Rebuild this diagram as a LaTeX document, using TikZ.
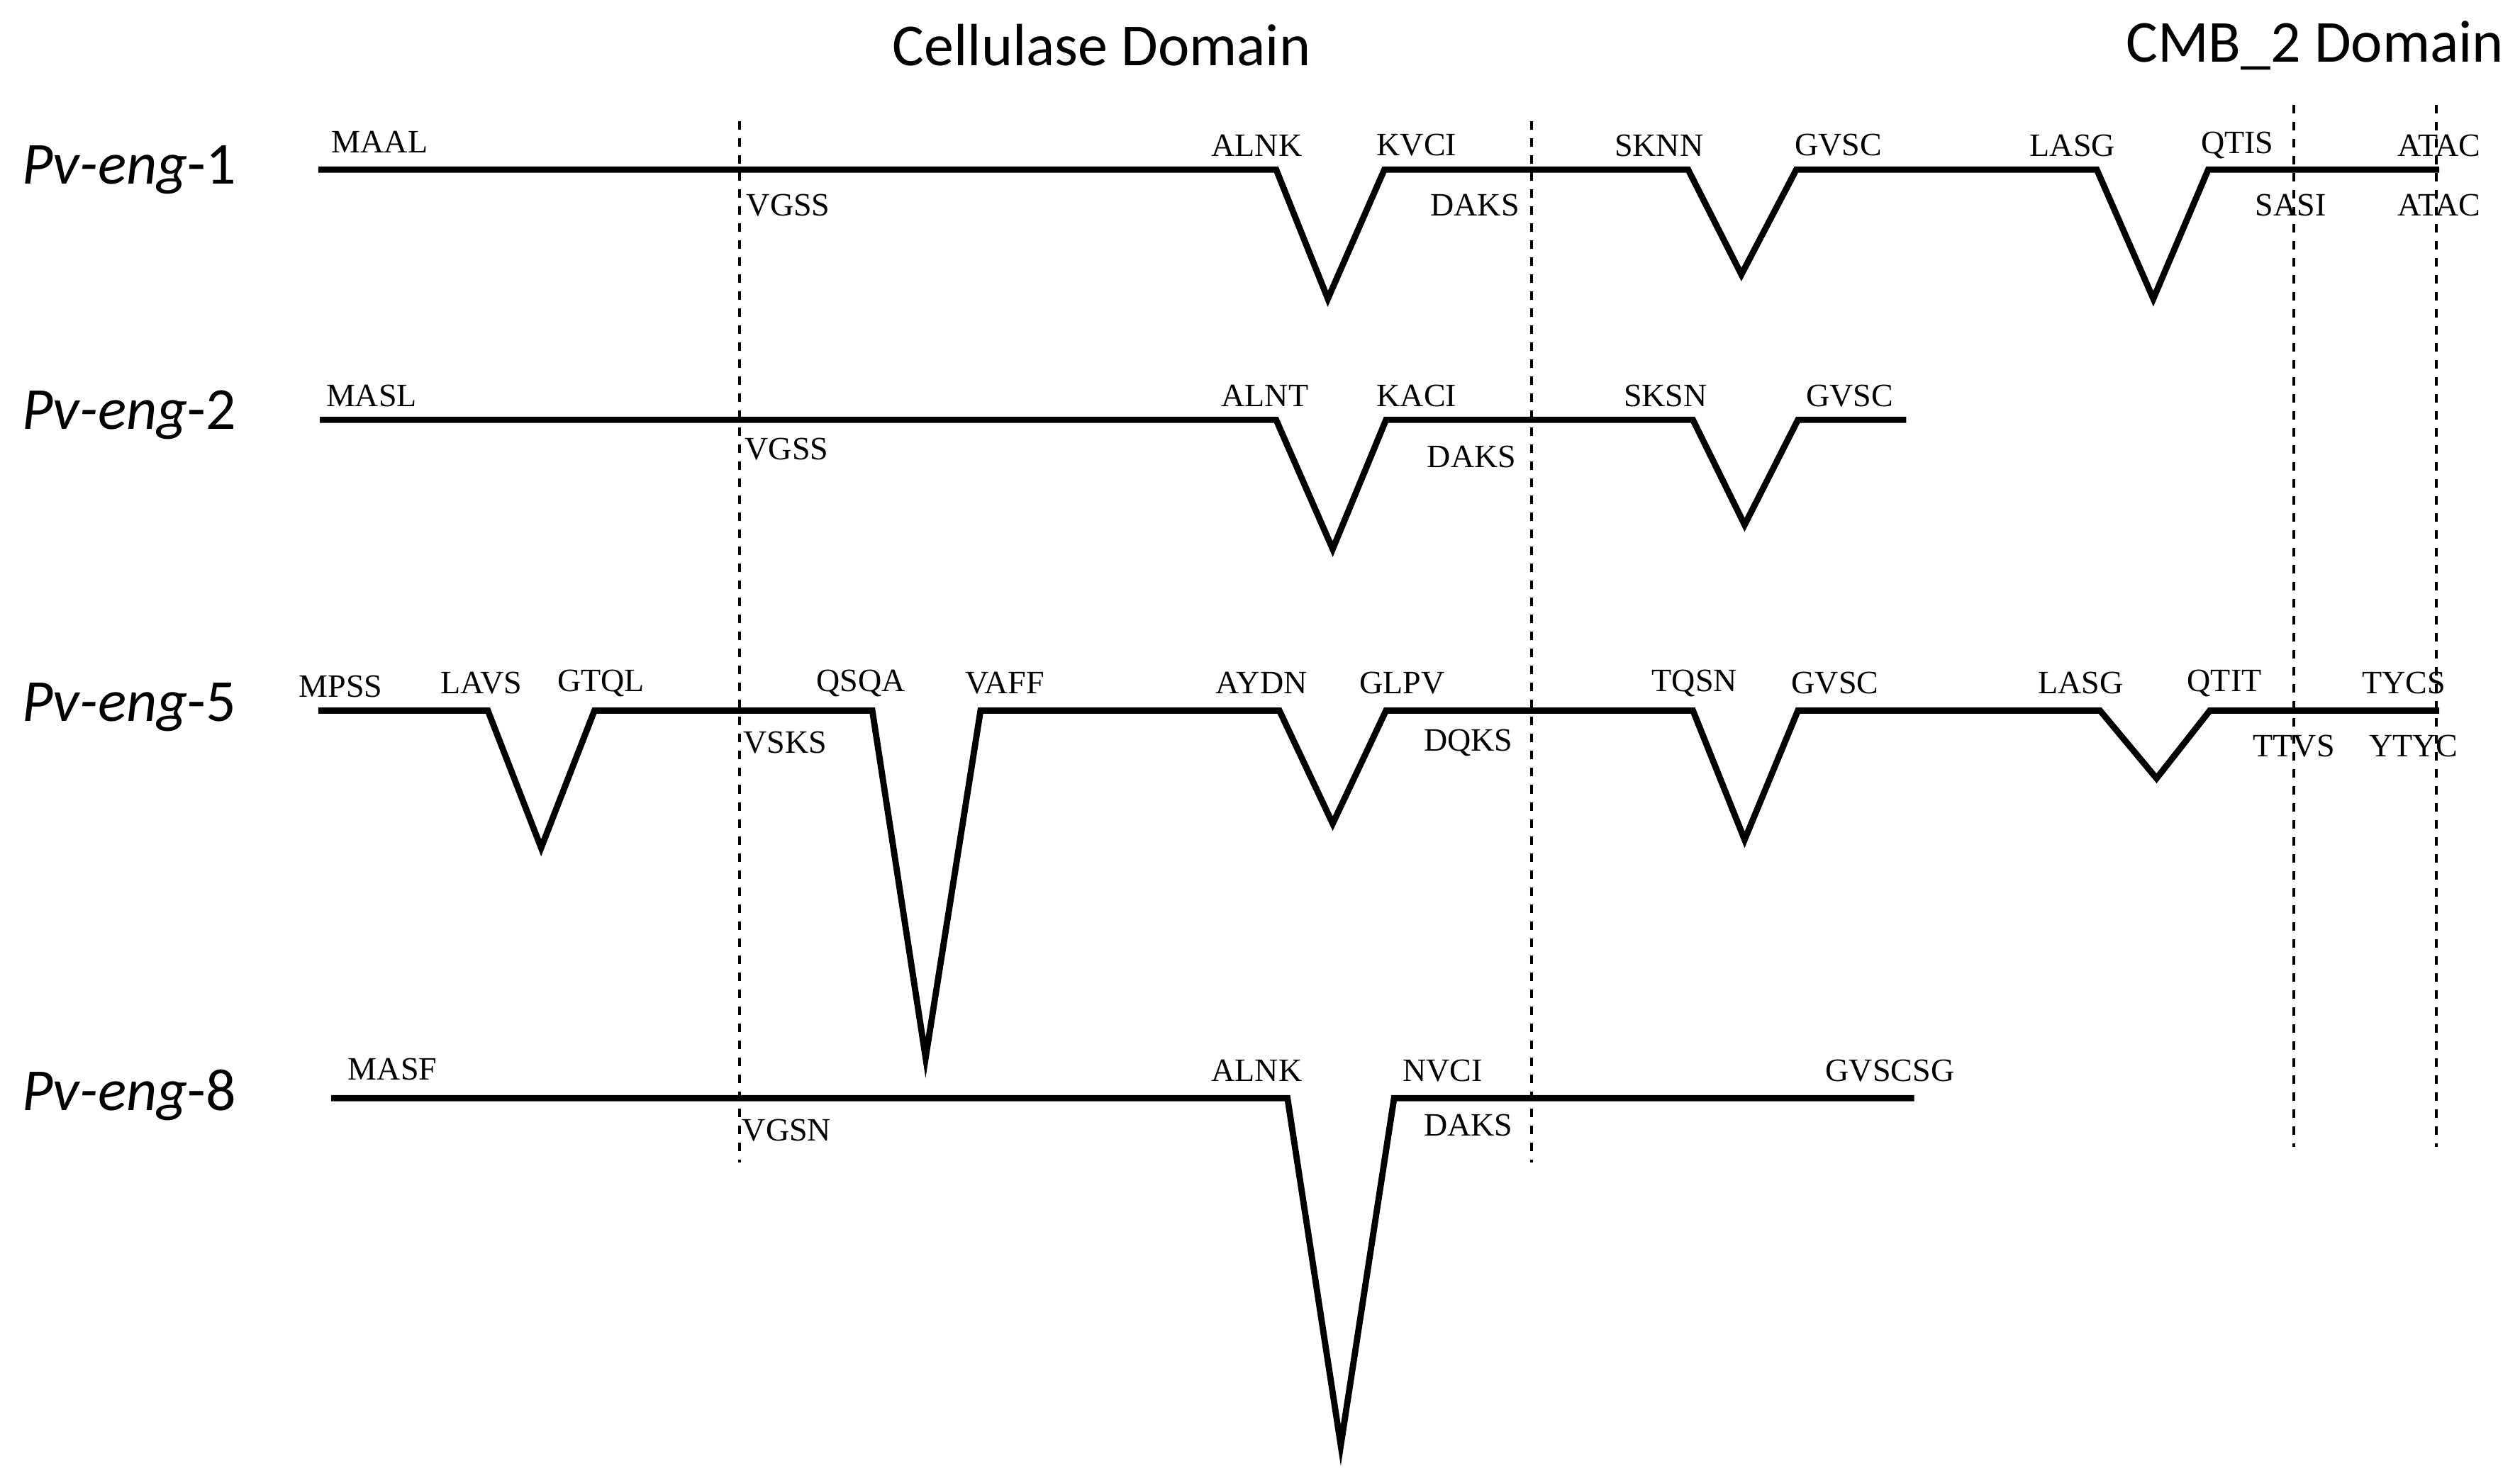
\documentclass[tikz,border=0pt]{standalone}
\usepackage{fontspec}
\setmainfont{Liberation Serif}
\newfontfamily\labfont{Carlito}
\tikzset{
  seq/.style={line width=2.2pt, line join=miter},
  dom/.style={dashed, line width=1pt},
  res/.style={font=\fontsize{11.5}{11.5}\selectfont, inner sep=0pt},
  row/.style={font=\labfont\fontsize{21}{21}\selectfont, inner sep=0pt},
  head/.style={font=\labfont\fontsize{21}{21}\selectfont, inner sep=0pt}
}
\begin{document}
\begin{tikzpicture}[x=0.02cm, y=-0.02cm]
  \useasboundingbox (0,0) rectangle (1560,909);

  % domain headers
  \node [head] (hcel) at (682,28) {Cellulase Domain};
  \node [head] (hcmb) at (1433,28) {CMB\_2 Domain};

  % domain borders
  \draw [dom] (458,75) -- (458,720);
  \draw [dom] (948,75) -- (948,720);
  \draw [dom] (1420,65) -- (1420,710);
  \draw [dom] (1508,65) -- (1508,710);

  % Pv-eng-1
  \node [row] (r1) at (80,105) {\textit{Pv-eng}-1};
  \draw [seq] (197,105) -- (790,105) -- (822,185) -- (857,105) -- (1045,105)
    -- (1078,170) -- (1112,105) -- (1298,105) -- (1333,185) -- (1367,105) -- (1510,105);
  \node [res] at (235,88) {MAAL};
  \node [res] at (778,90) {ALNK};
  \node [res] at (877,90) {KVCI};
  \node [res] at (488,127) {VGSS};
  \node [res] at (913,127) {DAKS};
  \node [res] at (1027,90) {SKNN};
  \node [res] at (1138,90) {GVSC};
  \node [res] at (1283,90) {LASG};
  \node [res] at (1385,90) {QTIS};
  \node [res] at (1418,127) {SASI};
  \node [res] at (1510,90) {ATAC};
  \node [res] at (1510,127) {ATAC};

  % Pv-eng-2
  \node [row] (r2) at (80,257) {\textit{Pv-eng}-2};
  \draw [seq] (198,260) -- (790,260) -- (825,340) -- (858,260) -- (1048,260)
    -- (1080,325) -- (1113,260) -- (1180,260);
  \node [res] at (230,245) {MASL};
  \node [res] at (783,245) {ALNT};
  \node [res] at (877,245) {KACI};
  \node [res] at (487,278) {VGSS};
  \node [res] at (911,283) {DAKS};
  \node [res] at (1031,245) {SKSN};
  \node [res] at (1145,245) {GVSC};

  % Pv-eng-5
  \node [row] (r5) at (80,438) {\textit{Pv-eng}-5};
  \draw [seq] (197,440) -- (302,440) -- (335,525) -- (368,440) -- (540,440)
    -- (573,655) -- (607,440) -- (792,440) -- (825,510) -- (858,440) -- (1048,440)
    -- (1080,520) -- (1113,440) -- (1300,440) -- (1335,482) -- (1368,440) -- (1510,440);
  \node [res] at (211,425) {MPSS};
  \node [res] at (298,423) {LAVS};
  \node [res] at (372,423) {GTQL};
  \node [res] at (533,423) {QSQA};
  \node [res] at (622,423) {VAFF};
  \node [res] at (781,423) {AYDN};
  \node [res] at (868,423) {GLPV};
  \node [res] at (486,460) {VSKS};
  \node [res] at (909,460) {DQKS};
  \node [res] at (1049,423) {TQSN};
  \node [res] at (1136,423) {GVSC};
  \node [res] at (1288,423) {LASG};
  \node [res] at (1377,423) {QTIT};
  \node [res] at (1420,462) {TTVS};
  \node [res] at (1488,423) {TYCS};
  \node [res] at (1494,462) {YTYC};

  % Pv-eng-8
  \node [row] (r8) at (80,678) {\textit{Pv-eng}-8};
  \draw [seq] (205,680) -- (797,680) -- (830,895) -- (863,680) -- (1185,680);
  \node [res] at (243,662) {MASF};
  \node [res] at (778,663) {ALNK};
  \node [res] at (893,663) {NVCI};
  \node [res] at (487,700) {VGSN};
  \node [res] at (909,697) {DAKS};
  \node [res] at (1170,663) {GVSCSG};
\end{tikzpicture}
\end{document}
